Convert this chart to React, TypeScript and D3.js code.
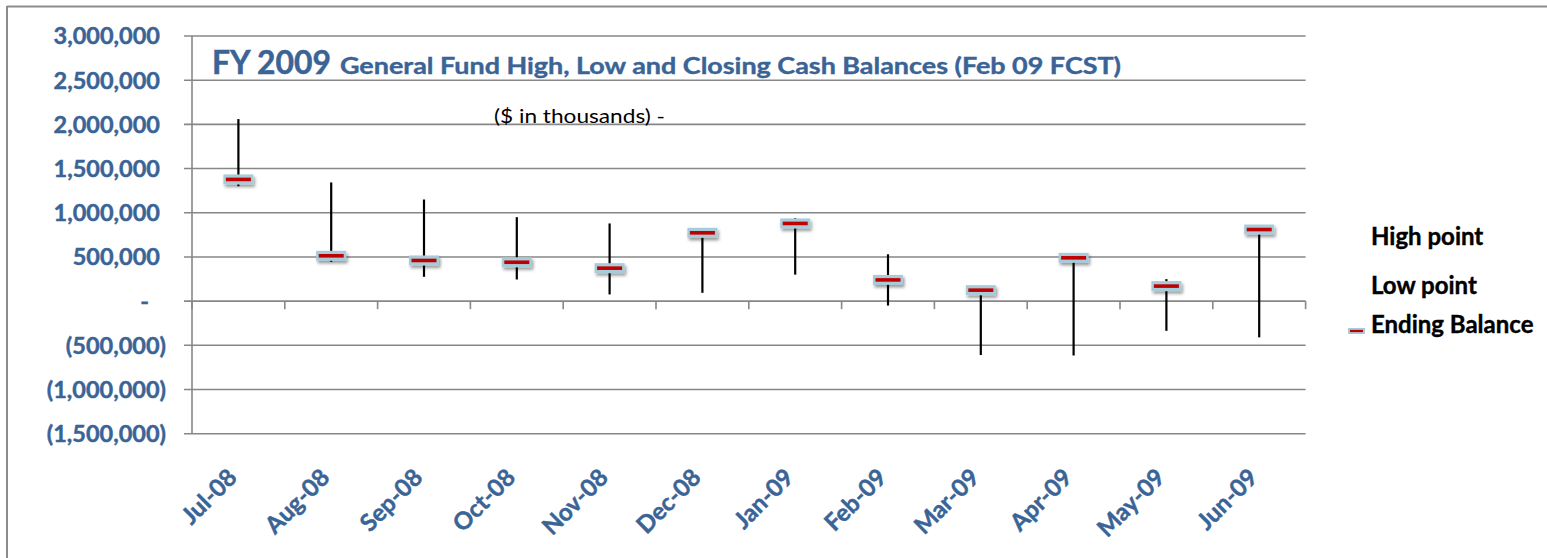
import React from "react";
import * as d3 from "d3";

const months = ["Jul-08", "Aug-08", "Sep-08", "Oct-08", "Nov-08", "Dec-08", "Jan-09", "Feb-09", "Mar-09", "Apr-09", "May-09", "Jun-09"];
const highPoint = [2060000, 1343000, 1150000, 950000, 879000, 773000, 940000, 530000, 124000, 490000, 249000, 810000];
const lowPoint = [1300000, 445000, 275000, 245000, 76000, 94000, 300000, -50000, -610000, -615000, -336000, -410000];
const endingBalance = [1377000, 513000, 460000, 440000, 373000, 773000, 879000, 240000, 124000, 490000, 170000, 810000];
const yTicks = [3000000, 2500000, 2000000, 1500000, 1000000, 500000, 0, -500000, -1000000, -1500000];
const legendItems = ["High point", "Low point", "Ending Balance"];

const W = 1547;
const H = 558;
const BLUE = "#3A6396";
const GRID = "#878787";
const FONT = "Lato, 'Open Sans', sans-serif";

export default function App() {
  const x = d3.scaleBand<string>().domain(months).range([192, 1305.6]).padding(0);
  const y = d3.scaleLinear().domain([-1500000, 3000000]).range([433.7, 36]);
  const fmt = d3.format(",");
  const label = (v: number) => (v === 0 ? "-" : v < 0 ? `(${fmt(-v)})` : fmt(v));
  const labelX = (v: number) => (v === 0 ? 149 : v < 0 ? 166 : 160);
  const bw = x.bandwidth();
  const boundaries = d3.range(months.length + 1).map((i) => 192 + i * bw);

  return (
    <svg width={W} height={H} style={{ position: "absolute", left: 0, top: 0, background: "#fff" }} fontFamily={FONT}>
      <defs>
        <filter id="shadow" x="-50%" y="-80%" width="200%" height="260%">
          <feDropShadow dx="1.5" dy="2.5" stdDeviation="1.8" floodColor="#000" floodOpacity="0.4" />
        </filter>
      </defs>
      {/* outer frame */}
      <line x1={7} y1={6.5} x2={W} y2={6.5} stroke="#8c8c8c" strokeWidth={2} />
      <line x1={7} y1={6} x2={7} y2={H} stroke="#8c8c8c" strokeWidth={2} />

      {/* gridlines */}
      {yTicks.map((t) => (
        <line key={"g" + t} x1={184} x2={1305.6} y1={y(t)} y2={y(t)} stroke={GRID} strokeWidth={1.6} />
      ))}
      {/* y axis */}
      <line x1={192} x2={192} y1={y(3000000)} y2={y(-1500000)} stroke={GRID} strokeWidth={1.6} />
      {/* x ticks at zero line */}
      {boundaries.map((b, i) => (
        <line key={"xt" + i} x1={b} x2={b} y1={y(0)} y2={y(0) + 8} stroke={GRID} strokeWidth={1.6} />
      ))}

      {/* y labels */}
      {yTicks.map((t) => (
        <text key={"yl" + t} x={labelX(t)} y={y(t)} dy="0.36em" textAnchor="end" fontSize={23.5} fontWeight={700} fill={BLUE} stroke={BLUE} strokeWidth={0.45}>
          {label(t)}
        </text>
      ))}

      {/* x labels */}
      {months.map((m) => (
        <text
          key={"xl" + m}
          transform={`translate(${(x(m) as number) + bw / 2},${479}) rotate(-45)`}
          textAnchor="end"
          fontSize={24}
          fontWeight={700}
          fill={BLUE}
          stroke={BLUE}
          strokeWidth={0.45}
        >
          {m}
        </text>
      ))}

      {/* title */}
      <text x={212} y={74} fontSize={32} fontWeight={700} fill={BLUE} stroke={BLUE} strokeWidth={0.5} textLength={119} lengthAdjust="spacingAndGlyphs">
        FY 2009
      </text>
      <text x={340} y={74} fontSize={23} fontWeight={700} fill={BLUE} stroke={BLUE} strokeWidth={0.4} textLength={781} lengthAdjust="spacingAndGlyphs">
        General Fund High, Low and Closing Cash Balances (Feb 09 FCST)
      </text>
      <text x={494} y={123} fontSize={20} fill="#000" textLength={171} lengthAdjust="spacingAndGlyphs">
        ($ in thousands) -
      </text>

      {/* high-low lines */}
      {months.map((m, i) => {
        const cx = (x(m) as number) + bw / 2;
        return (
          <line key={"hl" + m} x1={cx} x2={cx} y1={y(highPoint[i])} y2={y(lowPoint[i])} stroke="#000" strokeWidth={2.2} />
        );
      })}

      {/* ending balance markers */}
      {months.map((m, i) => {
        const cx = (x(m) as number) + bw / 2;
        const cy = y(endingBalance[i]);
        return (
          <g key={"eb" + m}>
            <rect x={cx - 15} y={cy - 5} width={30} height={10} fill="#A6CBD9" filter="url(#shadow)" />
            <rect x={cx - 12.5} y={cy - 1.8} width={25} height={3.6} fill="#C00000" />
          </g>
        );
      })}

      {/* legend */}
      {legendItems.map((t, i) => {
        const by = [245, 293.5, 332.5][i];
        return (
          <g key={"lg" + t}>
            {i === 2 && (
              <g>
                <rect x={1348} y={by - 4.5} width={17} height={6} fill="#A6CBD9" />
                <rect x={1350} y={by - 2.6} width={13} height={2.2} fill="#C00000" />
              </g>
            )}
            <text x={1371} y={by} fontSize={24} fontWeight={700} fill="#000" stroke="#000" strokeWidth={0.4}>
              {t}
            </text>
          </g>
        );
      })}
    </svg>
  );
}
